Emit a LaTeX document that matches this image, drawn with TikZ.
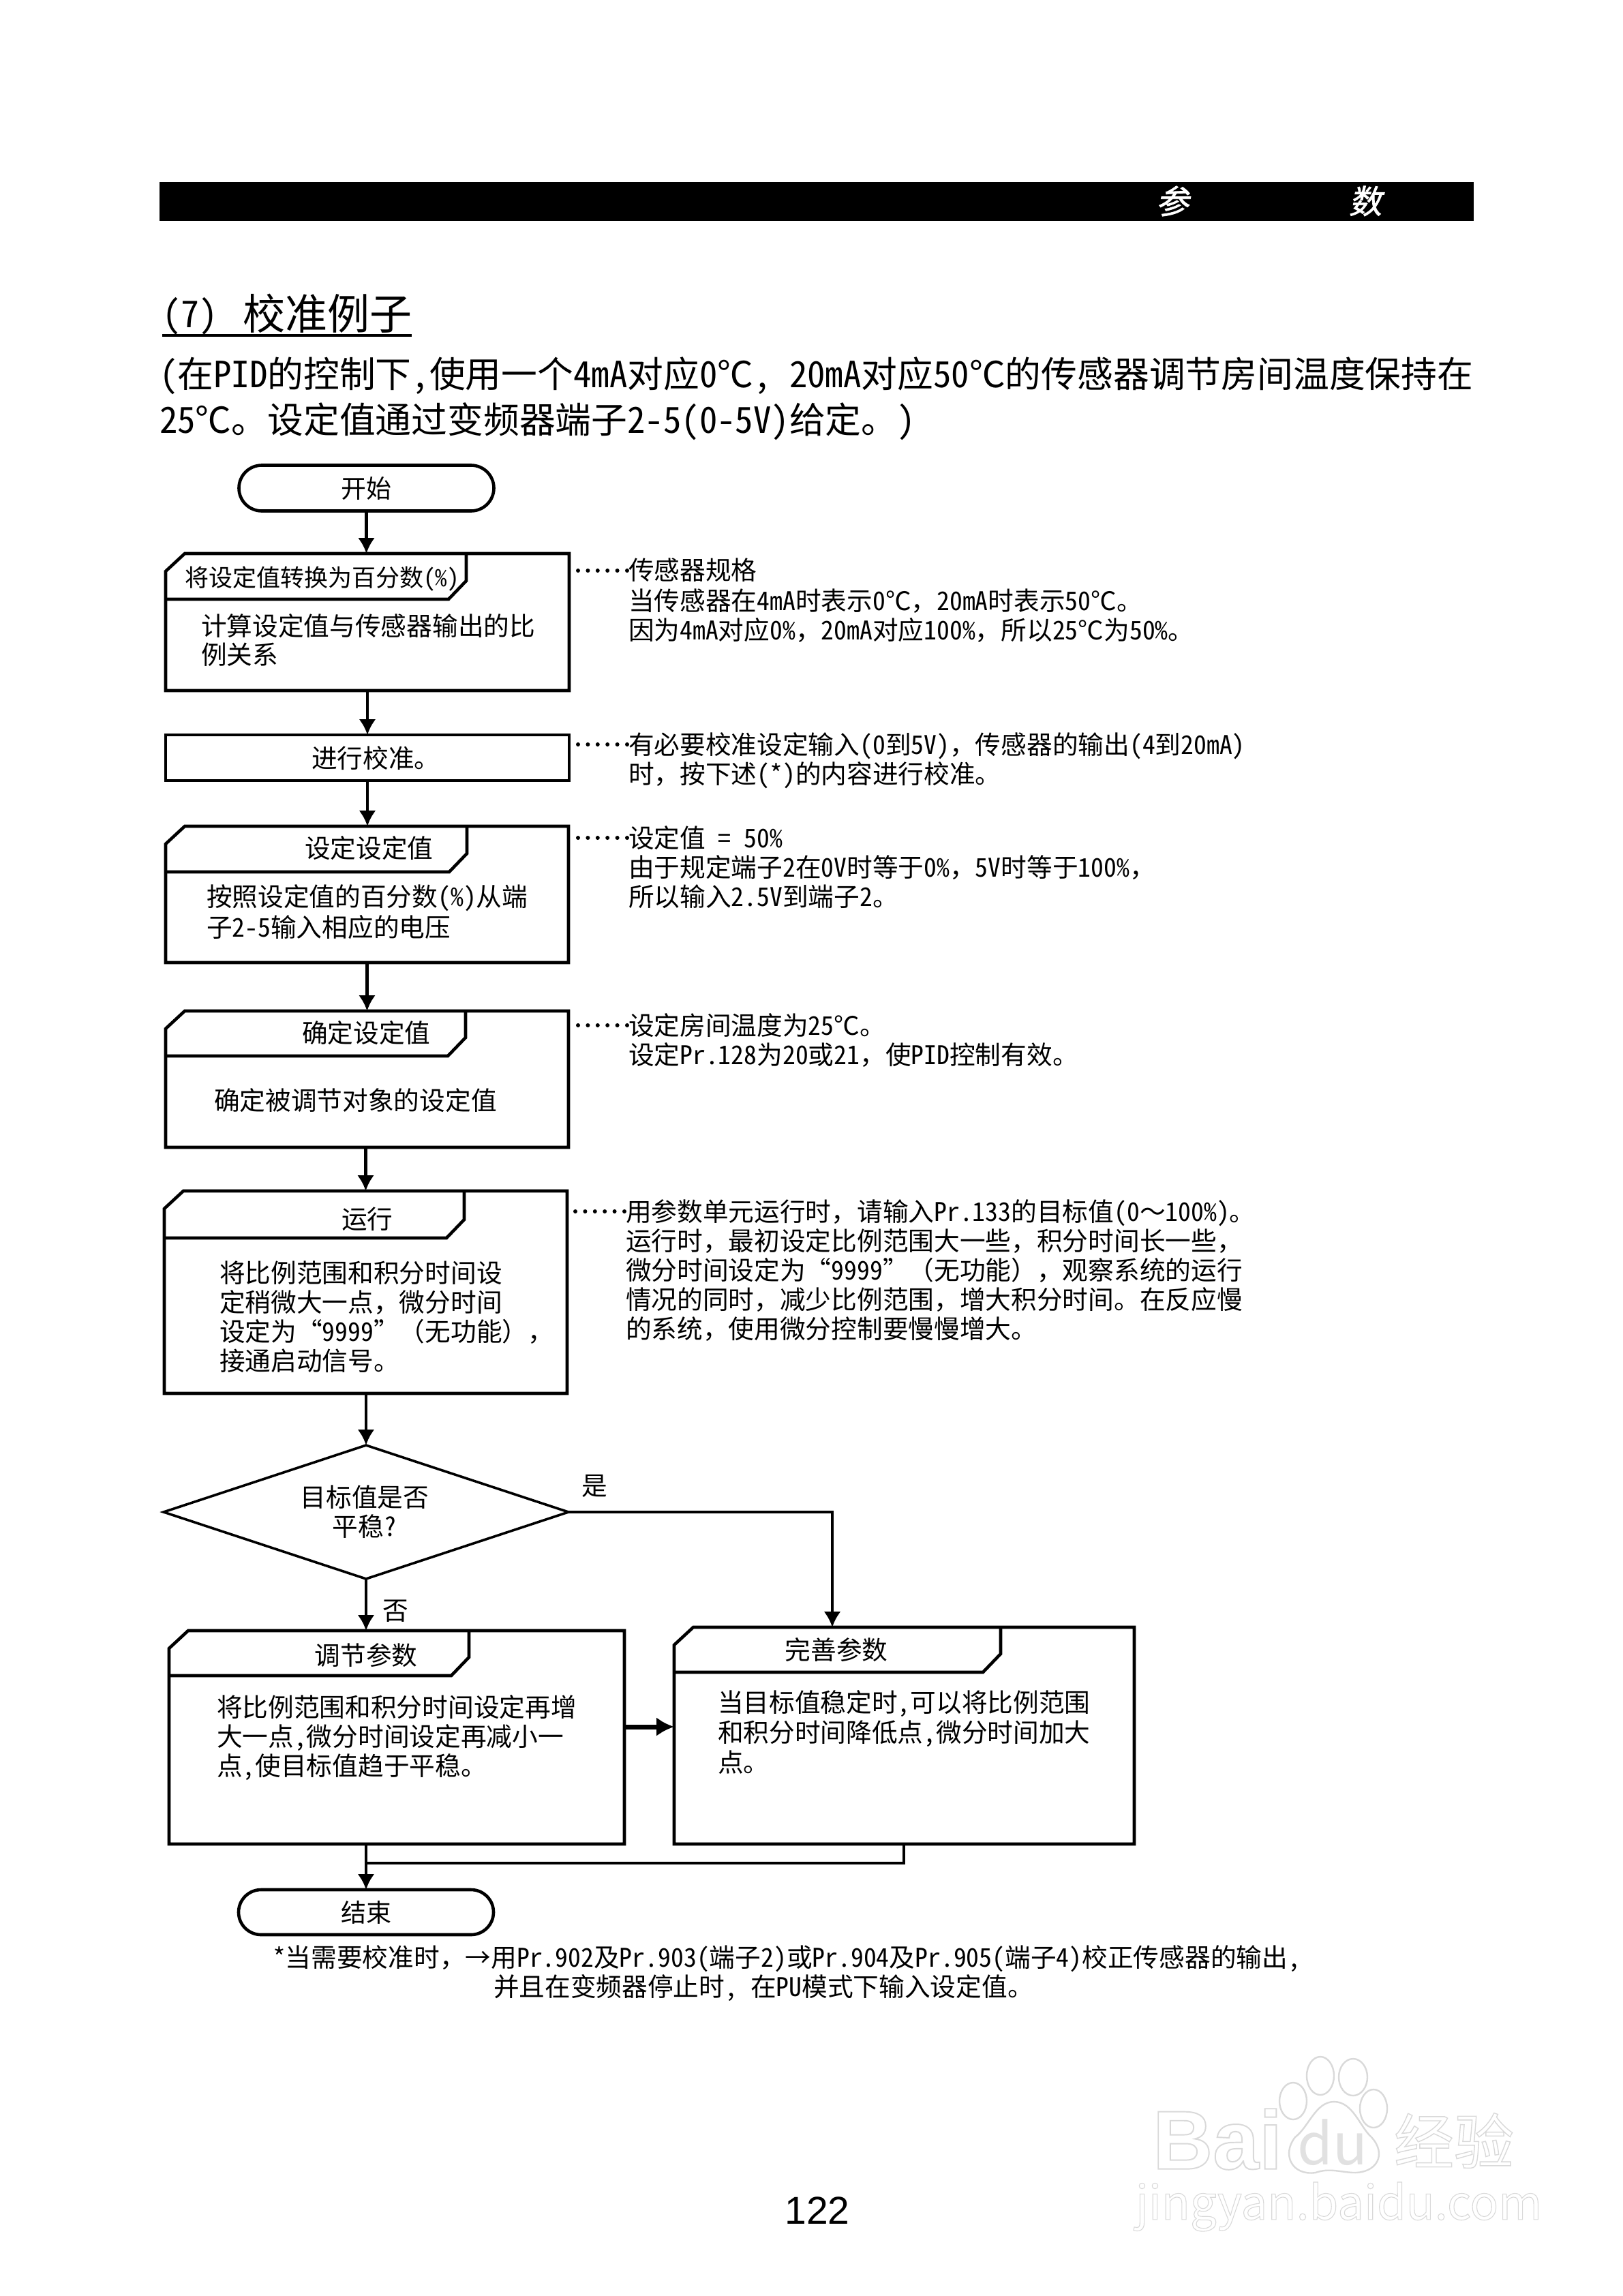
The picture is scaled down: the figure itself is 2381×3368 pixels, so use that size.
\documentclass[tikz,border=0pt]{standalone}
\usepackage{fontspec}
\usetikzlibrary{arrows.meta,shapes.geometric,shapes.misc}
\setmainfont{Noto Sans CJK SC}[RawFeature={+hwid}]
\newfontfamily\fwf{Noto Sans CJK SC}
\newfontfamily\barf{Noto Sans CJK SC}[FakeSlant=0.22,FakeBold=1.5]
\newfontfamily\pagef{Liberation Sans}
\newfontfamily\wmb{Liberation Sans Bold}[FakeBold=1.6]
\newfontfamily\wmc{Noto Sans CJK SC}[FakeBold=1.6]
\newfontfamily\wmd{Noto Sans CJK SC}
\definecolor{wmgray}{HTML}{D9D9D9}
\newcommand\CM{{\fwf ，}}
\newcommand\DC{{\fwf ℃}}
\newcommand\LP{{\fwf （}}
\newcommand\RP{{\fwf ）}}
\newcommand\TL{{\fwf ～}}
\newcommand\QL{{\fwf “}}
\newcommand\QR{{\fwf ”}}
\newcommand\RA{{\fwf →}}
\newcommand\wmout{\special{pdf:code 0.85 0.85 0.85 RG 1 1 1 rg}}
\tikzset{
  boxframe/.style={rectangle,inner sep=0pt,outer sep=0pt},
  boxline/.style={draw=black,line width=4.6pt,line join=miter},
  arr/.style={line width=4.6pt,-{Latex[length=23pt,width=25pt]}},
  plain/.style={line width=4.2pt},
  terminal/.style={rounded rectangle,draw=black,line width=4.6pt,inner sep=0pt,outer sep=0pt,
    minimum width=374pt,font=\fontsize{37}{37}\selectfont,text height=32.5pt,text depth=4.5pt},
  dots/.style={line width=6pt,line cap=round,dash pattern=on 0pt off 14.4pt},
  wmline/.style={draw=wmgray,line width=2.4pt,fill=white}
}
\newcommand\flowbox[7]{%
  \pgfmathsetmacro\bxcx{(#2+#4)/2}\pgfmathsetmacro\bxcy{(#3+#5)/2}%
  \pgfmathsetmacro\bxw{#4-#2}\pgfmathsetmacro\bxh{#5-#3}%
  \node[boxframe,minimum width=\bxw pt,minimum height=\bxh pt] (#1) at (\bxcx,\bxcy) {};
  \draw[boxline] (#2,{#3+26}) -- ({#2+28},#3) -- (#4,#3) -- (#4,#5) -- (#2,#5) -- cycle;
  \draw[boxline] (#6,#3) -- (#6,{#7-27}) -- ({#6-26},#7) -- (#2,#7);
}
\newcommand\tx[5][37.7]{% [size] name x y text : west anchored, y = glyph centre
  \node[anchor=west,inner sep=0pt,outer sep=0pt,text height=0.88*#1pt,text depth=0.12*#1pt,
        font=\fontsize{#1}{#1}\selectfont] (#2) at (#3,#4) {#5};
}
\newcommand\tc[5][37.7]{% centre anchored
  \node[anchor=center,inner sep=0pt,outer sep=0pt,text height=0.88*#1pt,text depth=0.12*#1pt,
        font=\fontsize{#1}{#1}\selectfont] (#2) at (#3,#4) {#5};
}
\begin{document}
\begin{tikzpicture}[x=1pt,y=-1pt]
\useasboundingbox (0,0) rectangle (2381,3368);

% header bar
\node[rectangle,fill=black,inner sep=0pt,outer sep=0pt,minimum width=1928pt,minimum height=57pt] (bar) at (1198,295.5) {};
\node[text=white,inner sep=0pt,font=\fontsize{48}{48}\selectfont\barf] (barA) at (1720,295) {参};
\node[text=white,inner sep=0pt,font=\fontsize{48}{48}\selectfont\barf] (barB) at (2003,295) {数};

% title
\tx[54]{titleA}{238}{460}{(7)}
\tx[62]{titleB}{356}{460}{校准例子}
\draw[line width=4pt] ([yshift=-1pt]titleA.west |- titleB.south) -- ([yshift=-1pt]titleB.south east);
\tx[52.8]{introA}{234}{548}{(在PID的控制下,使用一个4mA对应0\DC, 20mA对应50\DC 的传感器调节房间温度保持在}
\tx[52.8]{introB}{234}{615}{25\DC。设定值通过变频器端子2-5(0-5V)给定。)}

% flow
\node[terminal,minimum height=67pt] (start) at (537.5,716) {开始};
\flowbox{b1}{243}{812}{835}{1013}{684}{879}
\flowbox{b2x}{243}{1212}{834}{1412}{685}{1279}
\node[boxframe,draw=black,line width=4.6pt,minimum width=592pt,minimum height=67pt] (cal) at (539,1111.5) {};
\flowbox{b4}{243}{1483}{834}{1683}{683}{1549}
\flowbox{b5}{241}{1747}{832}{2044}{681}{1816}
\node[diamond,draw=black,line width=3.6pt,inner sep=0pt,outer sep=0pt,aspect=3,minimum width=594pt,minimum height=196pt] (dec) at (537,2218) {};
\flowbox{b7}{248}{2392}{916}{2705}{688}{2458}
\flowbox{b6}{989}{2387}{1664}{2705}{1468}{2453}
\node[terminal,minimum height=66pt] (finish) at (537,2805) {结束};

% connectors
\draw[arr] (start.south) -- (start.south |- b1.north);
\draw[arr] (b1.south) -- (b1.south |- cal.north);
\draw[arr] (cal.south) -- (cal.south |- b2x.north);
\draw[arr] (b2x.south) -- (b2x.south |- b4.north);
\draw[arr] ([xshift=-2pt]b4.south) -- ([xshift=-2pt]b4.south |- b5.north);
\draw[arr] (dec.north |- b5.south) -- (dec.north);
\draw[arr] (dec.south) -- (dec.south |- b7.north);
\coordinate (yesx) at (1221,2218);
\draw[arr,line width=4.2pt] (dec.east) -- (yesx) -- (yesx |- b6.north);
\draw[line width=7pt,-{Latex[length=26pt,width=28pt]}] (b7.east |- 0,2533) -- (b6.west |- 0,2533);
\coordinate (joinA) at (1326,2733);
\draw[plain] (joinA |- b6.south) -- (joinA) -- (finish.north |- joinA);
\draw[arr] (finish.north |- b7.south) -- (finish.north);

% box texts
\tx[35]{h1}{271}{847}{将设定值转换为百分数(\%)}
\tx{t1a}{295}{918}{计算设定值与传感器输出的比}
\tx{t1b}{295}{960}{例关系}
\tx{t2}{457}{1112}{进行校准。}
\tx{h3}{447}{1244}{设定设定值}
\tx{t3a}{303}{1315}{按照设定值的百分数(\%)从端}
\tx{t3b}{303}{1360}{子2-5输入相应的电压}
\tx{h4}{443}{1515}{确定设定值}
\tx{t4}{314}{1614}{确定被调节对象的设定值}
\tx{h5}{501}{1788}{运行}
\tx{t5a}{322}{1867}{将比例范围和积分时间设}
\tx{t5b}{322}{1910}{定稍微大一点\CM 微分时间}
\tx{t5c}{322}{1953}{设定为\QL 9999\QR\LP 无功能\RP\CM}
\tx{t5d}{322}{1996}{接通启动信号。}
\tc{d1}{535}{2196}{目标值是否}
\tc{d2}{535}{2239}{平稳?}
\tc{yes}{872}{2179}{是}
\tc{no}{580}{2362}{否}
\tc{h7}{537}{2428}{调节参数}
\tx{t7a}{318}{2504}{将比例范围和积分时间设定再增}
\tx{t7b}{318}{2547}{大一点,微分时间设定再减小一}
\tx{t7c}{318}{2590}{点,使目标值趋于平稳。}
\tc{h6}{1227}{2420}{完善参数}
\tx{t6a}{1053}{2497}{当目标值稳定时,可以将比例范围}
\tx{t6b}{1053}{2541}{和积分时间降低点,微分时间加大}
\tx{t6c}{1053}{2585}{点。}

% notes
\coordinate (da1) at (848,837);\coordinate (db1) at (920,837);
\coordinate (da2) at (848,1092);\coordinate (db2) at (920,1092);
\coordinate (da3) at (848,1229);\coordinate (db3) at (920,1229);
\coordinate (da4) at (848,1504);\coordinate (db4) at (920,1504);
\coordinate (da5) at (844,1777);\coordinate (db5) at (916,1777);
\foreach \k in {1,...,5}{\draw[dots] (da\k) -- (db\k);}
\tx{n1a}{922}{836}{传感器规格}
\tx{n1b}{922}{881}{当传感器在4mA时表示0\DC\CM 20mA时表示50\DC。}
\tx{n1c}{922}{924}{因为4mA对应0\%\CM 20mA对应100\%\CM 所以25\DC 为50\%。}
\tx{n2a}{922}{1092}{有必要校准设定输入(0到5V)\CM 传感器的输出(4到20mA)}
\tx{n2b}{922}{1135}{时\CM 按下述(*)的内容进行校准。}
\tx{n3a}{922}{1229}{设定值 = 50\%}
\tx{n3b}{922}{1272}{由于规定端子2在0V时等于0\%\CM 5V时等于100\%\CM}
\tx{n3c}{922}{1315}{所以输入2.5V到端子2。}
\tx{n4a}{922}{1504}{设定房间温度为25\DC。}
\tx{n4b}{922}{1547}{设定Pr.128为20或21\CM 使PID控制有效。}
\tx{n5a}{918}{1777}{用参数单元运行时\CM 请输入Pr.133的目标值(0\TL 100\%)。}
\tx{n5b}{918}{1820}{运行时\CM 最初设定比例范围大一些\CM 积分时间长一些\CM}
\tx{n5c}{918}{1863}{微分时间设定为\QL 9999\QR\LP 无功能\RP\CM 观察系统的运行}
\tx{n5d}{918}{1906}{情况的同时\CM 减少比例范围\CM 增大积分时间。在反应慢}
\tx{n5e}{918}{1949}{的系统\CM 使用微分控制要慢慢增大。}
\tx{f1}{400}{2871}{*当需要校准时\CM\RA 用Pr.902及Pr.903(端子2)或Pr.904及Pr.905(端子4)校正传感器的输出,}
\tx{f2}{724}{2914}{并且在变频器停止时, 在PU模式下输入设定值。}

% page number
\node[inner sep=0pt,font=\fontsize{57}{57}\selectfont\pagef] (pageno) at (1199,3243) {122};

% watermark
\begin{scope}[every node/.style={inner sep=0pt}]
\node[font=\fontsize{122}{122}\selectfont\wmb] (wmA) at (1786,3138) {\wmout Bai};
\draw[wmline] (1897,3082) ellipse [x radius=20pt,y radius=27pt];
\draw[wmline] (1937,3045) ellipse [x radius=20pt,y radius=28pt];
\draw[wmline] (1985,3047) ellipse [x radius=21pt,y radius=27pt];
\draw[wmline] (2015,3093) ellipse [x radius=20pt,y radius=28pt];
\draw[wmline] (1957,3083) .. controls (1985,3083) and (1995,3120) .. (2012,3135)
   .. controls (2035,3160) and (2020,3188) .. (1985,3187)
   .. controls (1965,3186) and (1950,3180) .. (1930,3187)
   .. controls (1895,3192) and (1880,3160) .. (1900,3135)
   .. controls (1920,3120) and (1930,3083) .. (1957,3083) -- cycle;
\node[text=wmgray!80!white,font=\fontsize{84}{84}\selectfont\wmd] (wmD) at (1955,3143) {du};
\node[font=\fontsize{88}{88}\selectfont\wmc] (wmE) at (2133,3140) {\wmout 经验};
\node[font=\fontsize{69}{69}\selectfont\wmc] (wmF) at (1964,3237) {\wmout jingyan.baidu.com};
\end{scope}
\end{tikzpicture}
\end{document}
